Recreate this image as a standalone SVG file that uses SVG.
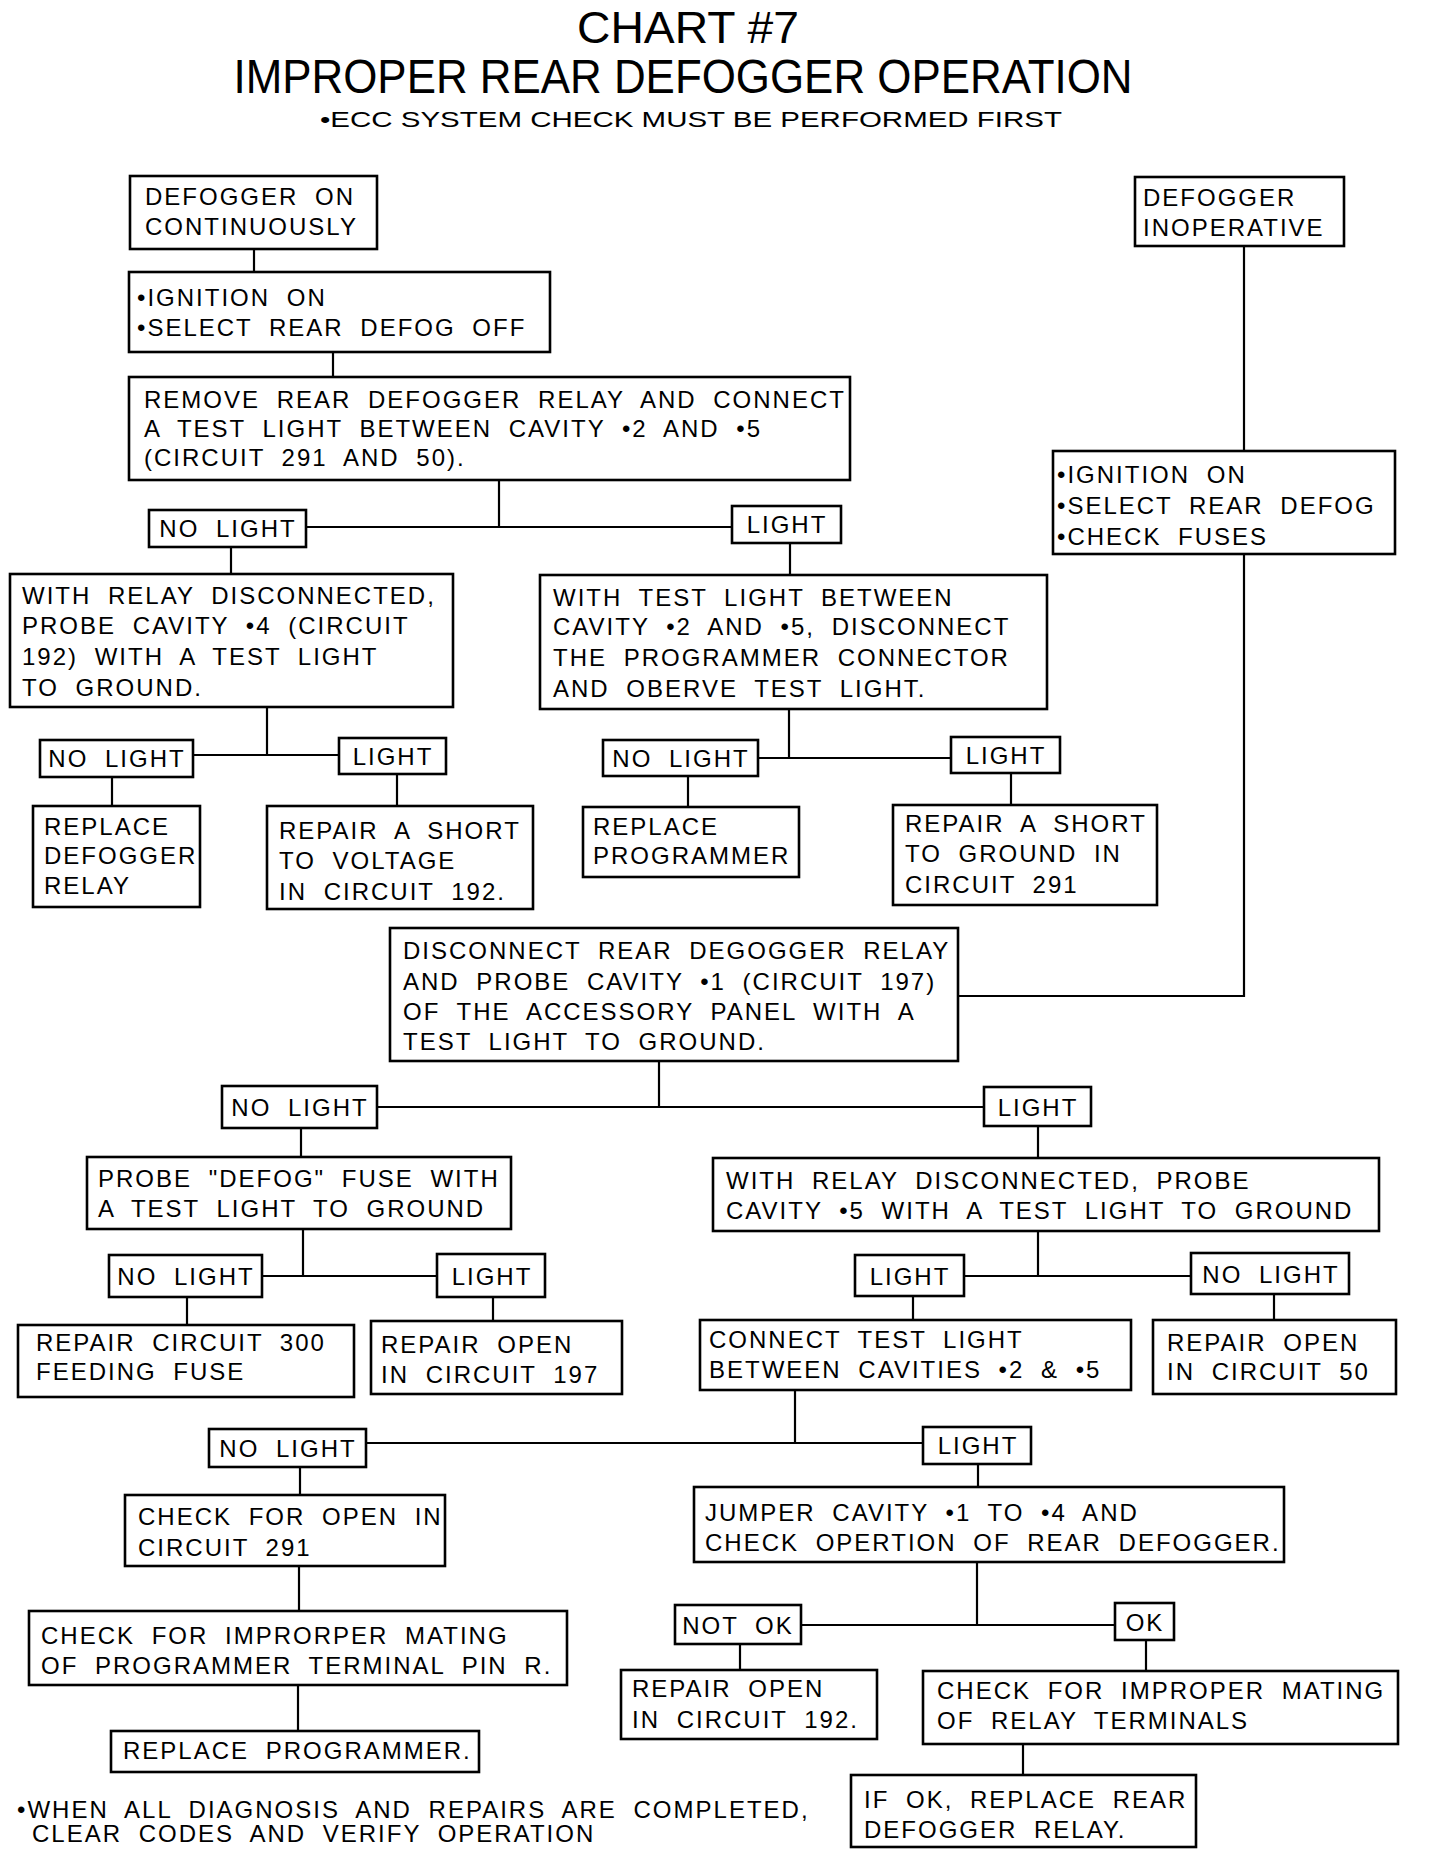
<svg xmlns="http://www.w3.org/2000/svg" width="1440" height="1860" viewBox="0 0 1440 1860">
<style>
rect{fill:#fff;stroke:#000;stroke-width:2.6}
text{font-family:"Liberation Sans",Arial,sans-serif;font-size:24px;letter-spacing:2px;word-spacing:8px;fill:#000}
.lb{text-anchor:middle}
.t{text-anchor:middle;letter-spacing:0;word-spacing:0}
.t1{font-size:45px}
.t2{font-size:49px}
.t3{font-size:22px}
#connectors line,#connectors polyline{stroke:#000;stroke-width:2.2;fill:none}
</style>
<rect x="0" y="0" width="1440" height="1860" style="stroke:none"/>
<g id="title">
<text class="t t1" x="688" y="43" textLength="222" lengthAdjust="spacingAndGlyphs">CHART #7</text>
<text class="t t2" x="683" y="93" textLength="899" lengthAdjust="spacingAndGlyphs">IMPROPER REAR DEFOGGER OPERATION</text>
<text class="t t3" x="691" y="127" textLength="742" lengthAdjust="spacingAndGlyphs">•ECC SYSTEM CHECK MUST BE PERFORMED FIRST</text>
</g>
<g id="connectors">
<line x1="254" y1="249" x2="254" y2="272"/>
<line x1="333" y1="352" x2="333" y2="377"/>
<line x1="499" y1="480" x2="499" y2="527"/>
<line x1="306" y1="527" x2="732" y2="527"/>
<line x1="231" y1="547" x2="231" y2="574"/>
<line x1="790" y1="543" x2="790" y2="575"/>
<line x1="1244" y1="246" x2="1244" y2="451"/>
<polyline points="1244,554 1244,996 958,996"/>
<line x1="267" y1="707" x2="267" y2="755"/>
<line x1="193" y1="755" x2="339" y2="755"/>
<line x1="112" y1="777" x2="112" y2="806"/>
<line x1="397" y1="774" x2="397" y2="806"/>
<line x1="789" y1="709" x2="789" y2="758"/>
<line x1="758" y1="758" x2="951" y2="758"/>
<line x1="688" y1="776" x2="688" y2="807"/>
<line x1="1011" y1="773" x2="1011" y2="805"/>
<line x1="659" y1="1061" x2="659" y2="1107"/>
<line x1="377" y1="1107" x2="984" y2="1107"/>
<line x1="301" y1="1128" x2="301" y2="1157"/>
<line x1="1038" y1="1126" x2="1038" y2="1158"/>
<line x1="303" y1="1229" x2="303" y2="1276"/>
<line x1="262" y1="1276" x2="437" y2="1276"/>
<line x1="187" y1="1297" x2="187" y2="1325"/>
<line x1="493" y1="1297" x2="493" y2="1321"/>
<line x1="1038" y1="1231" x2="1038" y2="1276"/>
<line x1="964" y1="1276" x2="1191" y2="1276"/>
<line x1="913" y1="1296" x2="913" y2="1320"/>
<line x1="1274" y1="1294" x2="1274" y2="1320"/>
<line x1="795" y1="1390" x2="795" y2="1443"/>
<line x1="366" y1="1443" x2="923" y2="1443"/>
<line x1="300" y1="1467" x2="300" y2="1495"/>
<line x1="978" y1="1464" x2="978" y2="1487"/>
<line x1="299" y1="1566" x2="299" y2="1611"/>
<line x1="298" y1="1685" x2="298" y2="1731"/>
<line x1="977" y1="1562" x2="977" y2="1625"/>
<line x1="801" y1="1625" x2="1115" y2="1625"/>
<line x1="740" y1="1644" x2="740" y2="1670"/>
<line x1="1146" y1="1640" x2="1146" y2="1671"/>
<line x1="1023" y1="1744" x2="1023" y2="1775"/>
</g>
<g id="n1"><rect x="130" y="176" width="247" height="73"/><text x="145" y="205">DEFOGGER ON</text><text x="145" y="235">CONTINUOUSLY</text></g>
<g id="n2"><rect x="129" y="272" width="421" height="80"/><text x="137" y="306">•IGNITION ON</text><text x="137" y="336">•SELECT REAR DEFOG OFF</text></g>
<g id="n3"><rect x="129" y="377" width="721" height="103"/><text x="144" y="408">REMOVE REAR DEFOGGER RELAY AND CONNECT</text><text x="144" y="437">A TEST LIGHT BETWEEN CAVITY •2 AND •5</text><text x="144" y="466">(CIRCUIT 291 AND 50).</text></g>
<g id="n4"><rect x="1135" y="177" width="209" height="69"/><text x="1143" y="206">DEFOGGER</text><text x="1143" y="236">INOPERATIVE</text></g>
<g id="n5"><rect x="1053" y="451" width="342" height="103"/><text x="1057" y="483">•IGNITION ON</text><text x="1057" y="514">•SELECT REAR DEFOG</text><text x="1057" y="545">•CHECK FUSES</text></g>
<g id="l1"><rect x="149" y="510" width="157" height="37"/><text class="lb" x="228" y="537">NO LIGHT</text></g>
<g id="l2"><rect x="732" y="506" width="109" height="37"/><text class="lb" x="787" y="533">LIGHT</text></g>
<g id="n6"><rect x="10" y="574" width="443" height="133"/><text x="22" y="604">WITH RELAY DISCONNECTED,</text><text x="22" y="634">PROBE CAVITY •4 (CIRCUIT</text><text x="22" y="665">192) WITH A TEST LIGHT</text><text x="22" y="696">TO GROUND.</text></g>
<g id="n7"><rect x="540" y="575" width="507" height="134"/><text x="553" y="606">WITH TEST LIGHT BETWEEN</text><text x="553" y="635">CAVITY •2 AND •5, DISCONNECT</text><text x="553" y="666">THE PROGRAMMER CONNECTOR</text><text x="553" y="697">AND OBERVE TEST LIGHT.</text></g>
<g id="l3"><rect x="40" y="740" width="153" height="37"/><text class="lb" x="117" y="767">NO LIGHT</text></g>
<g id="l4"><rect x="339" y="738" width="107" height="36"/><text class="lb" x="393" y="765">LIGHT</text></g>
<g id="l5"><rect x="603" y="740" width="155" height="36"/><text class="lb" x="681" y="767">NO LIGHT</text></g>
<g id="l6"><rect x="951" y="737" width="109" height="36"/><text class="lb" x="1006" y="764">LIGHT</text></g>
<g id="n8"><rect x="33" y="806" width="167" height="101"/><text x="44" y="835">REPLACE</text><text x="44" y="864">DEFOGGER</text><text x="44" y="894">RELAY</text></g>
<g id="n9"><rect x="267" y="806" width="266" height="103"/><text x="279" y="839">REPAIR A SHORT</text><text x="279" y="869">TO VOLTAGE</text><text x="279" y="900">IN CIRCUIT 192.</text></g>
<g id="n10"><rect x="583" y="807" width="216" height="70"/><text x="593" y="835">REPLACE</text><text x="593" y="864">PROGRAMMER</text></g>
<g id="n11"><rect x="893" y="805" width="264" height="100"/><text x="905" y="832">REPAIR A SHORT</text><text x="905" y="862">TO GROUND IN</text><text x="905" y="893">CIRCUIT 291</text></g>
<g id="n12"><rect x="390" y="928" width="568" height="133"/><text x="403" y="959">DISCONNECT REAR DEGOGGER RELAY</text><text x="403" y="990">AND PROBE CAVITY •1 (CIRCUIT 197)</text><text x="403" y="1020">OF THE ACCESSORY PANEL WITH A</text><text x="403" y="1050">TEST LIGHT TO GROUND.</text></g>
<g id="l7"><rect x="222" y="1086" width="155" height="42"/><text class="lb" x="300" y="1116">NO LIGHT</text></g>
<g id="l8"><rect x="984" y="1087" width="107" height="39"/><text class="lb" x="1038" y="1116">LIGHT</text></g>
<g id="n13"><rect x="87" y="1157" width="424" height="72"/><text x="98" y="1187">PROBE "DEFOG" FUSE WITH</text><text x="98" y="1217">A TEST LIGHT TO GROUND</text></g>
<g id="n14"><rect x="713" y="1158" width="666" height="73"/><text x="726" y="1189">WITH RELAY DISCONNECTED, PROBE</text><text x="726" y="1219">CAVITY •5 WITH A TEST LIGHT TO GROUND</text></g>
<g id="l9"><rect x="109" y="1255" width="153" height="42"/><text class="lb" x="186" y="1285">NO LIGHT</text></g>
<g id="l10"><rect x="437" y="1254" width="108" height="43"/><text class="lb" x="492" y="1285">LIGHT</text></g>
<g id="l11"><rect x="855" y="1255" width="109" height="41"/><text class="lb" x="910" y="1285">LIGHT</text></g>
<g id="l12"><rect x="1191" y="1253" width="158" height="41"/><text class="lb" x="1271" y="1283">NO LIGHT</text></g>
<g id="n15"><rect x="18" y="1325" width="336" height="72"/><text x="36" y="1351">REPAIR CIRCUIT 300</text><text x="36" y="1380">FEEDING FUSE</text></g>
<g id="n16"><rect x="371" y="1321" width="251" height="73"/><text x="381" y="1353">REPAIR OPEN</text><text x="381" y="1383">IN CIRCUIT 197</text></g>
<g id="n17"><rect x="700" y="1320" width="431" height="70"/><text x="709" y="1348">CONNECT TEST LIGHT</text><text x="709" y="1378">BETWEEN CAVITIES •2 &amp; •5</text></g>
<g id="n18"><rect x="1153" y="1320" width="243" height="74"/><text x="1167" y="1351">REPAIR OPEN</text><text x="1167" y="1380">IN CIRCUIT 50</text></g>
<g id="l13"><rect x="209" y="1429" width="157" height="38"/><text class="lb" x="288" y="1457">NO LIGHT</text></g>
<g id="l14"><rect x="923" y="1427" width="108" height="37"/><text class="lb" x="978" y="1454">LIGHT</text></g>
<g id="n19"><rect x="125" y="1495" width="320" height="71"/><text x="138" y="1525">CHECK FOR OPEN IN</text><text x="138" y="1556">CIRCUIT 291</text></g>
<g id="n20"><rect x="694" y="1487" width="590" height="75"/><text x="705" y="1521">JUMPER CAVITY •1 TO •4 AND</text><text x="705" y="1551">CHECK OPERTION OF REAR DEFOGGER.</text></g>
<g id="l15"><rect x="675" y="1605" width="126" height="39"/><text class="lb" x="738" y="1634">NOT OK</text></g>
<g id="l16"><rect x="1115" y="1603" width="59" height="37"/><text class="lb" x="1145" y="1631">OK</text></g>
<g id="n21"><rect x="29" y="1611" width="538" height="74"/><text x="41" y="1644">CHECK FOR IMPRORPER MATING</text><text x="41" y="1674">OF PROGRAMMER TERMINAL PIN R.</text></g>
<g id="n22"><rect x="621" y="1670" width="256" height="69"/><text x="632" y="1697">REPAIR OPEN</text><text x="632" y="1728">IN CIRCUIT 192.</text></g>
<g id="n23"><rect x="923" y="1671" width="475" height="73"/><text x="937" y="1699">CHECK FOR IMPROPER MATING</text><text x="937" y="1729">OF RELAY TERMINALS</text></g>
<g id="n24"><rect x="111" y="1731" width="368" height="41"/><text x="123" y="1759">REPLACE PROGRAMMER.</text></g>
<g id="n25"><rect x="851" y="1775" width="345" height="72"/><text x="864" y="1808">IF OK, REPLACE REAR</text><text x="864" y="1838">DEFOGGER RELAY.</text></g>
<g id="footnote"><text x="17" y="1818">•WHEN ALL DIAGNOSIS AND REPAIRS ARE COMPLETED,</text><text x="32" y="1842">CLEAR CODES AND VERIFY OPERATION</text></g>
</svg>
